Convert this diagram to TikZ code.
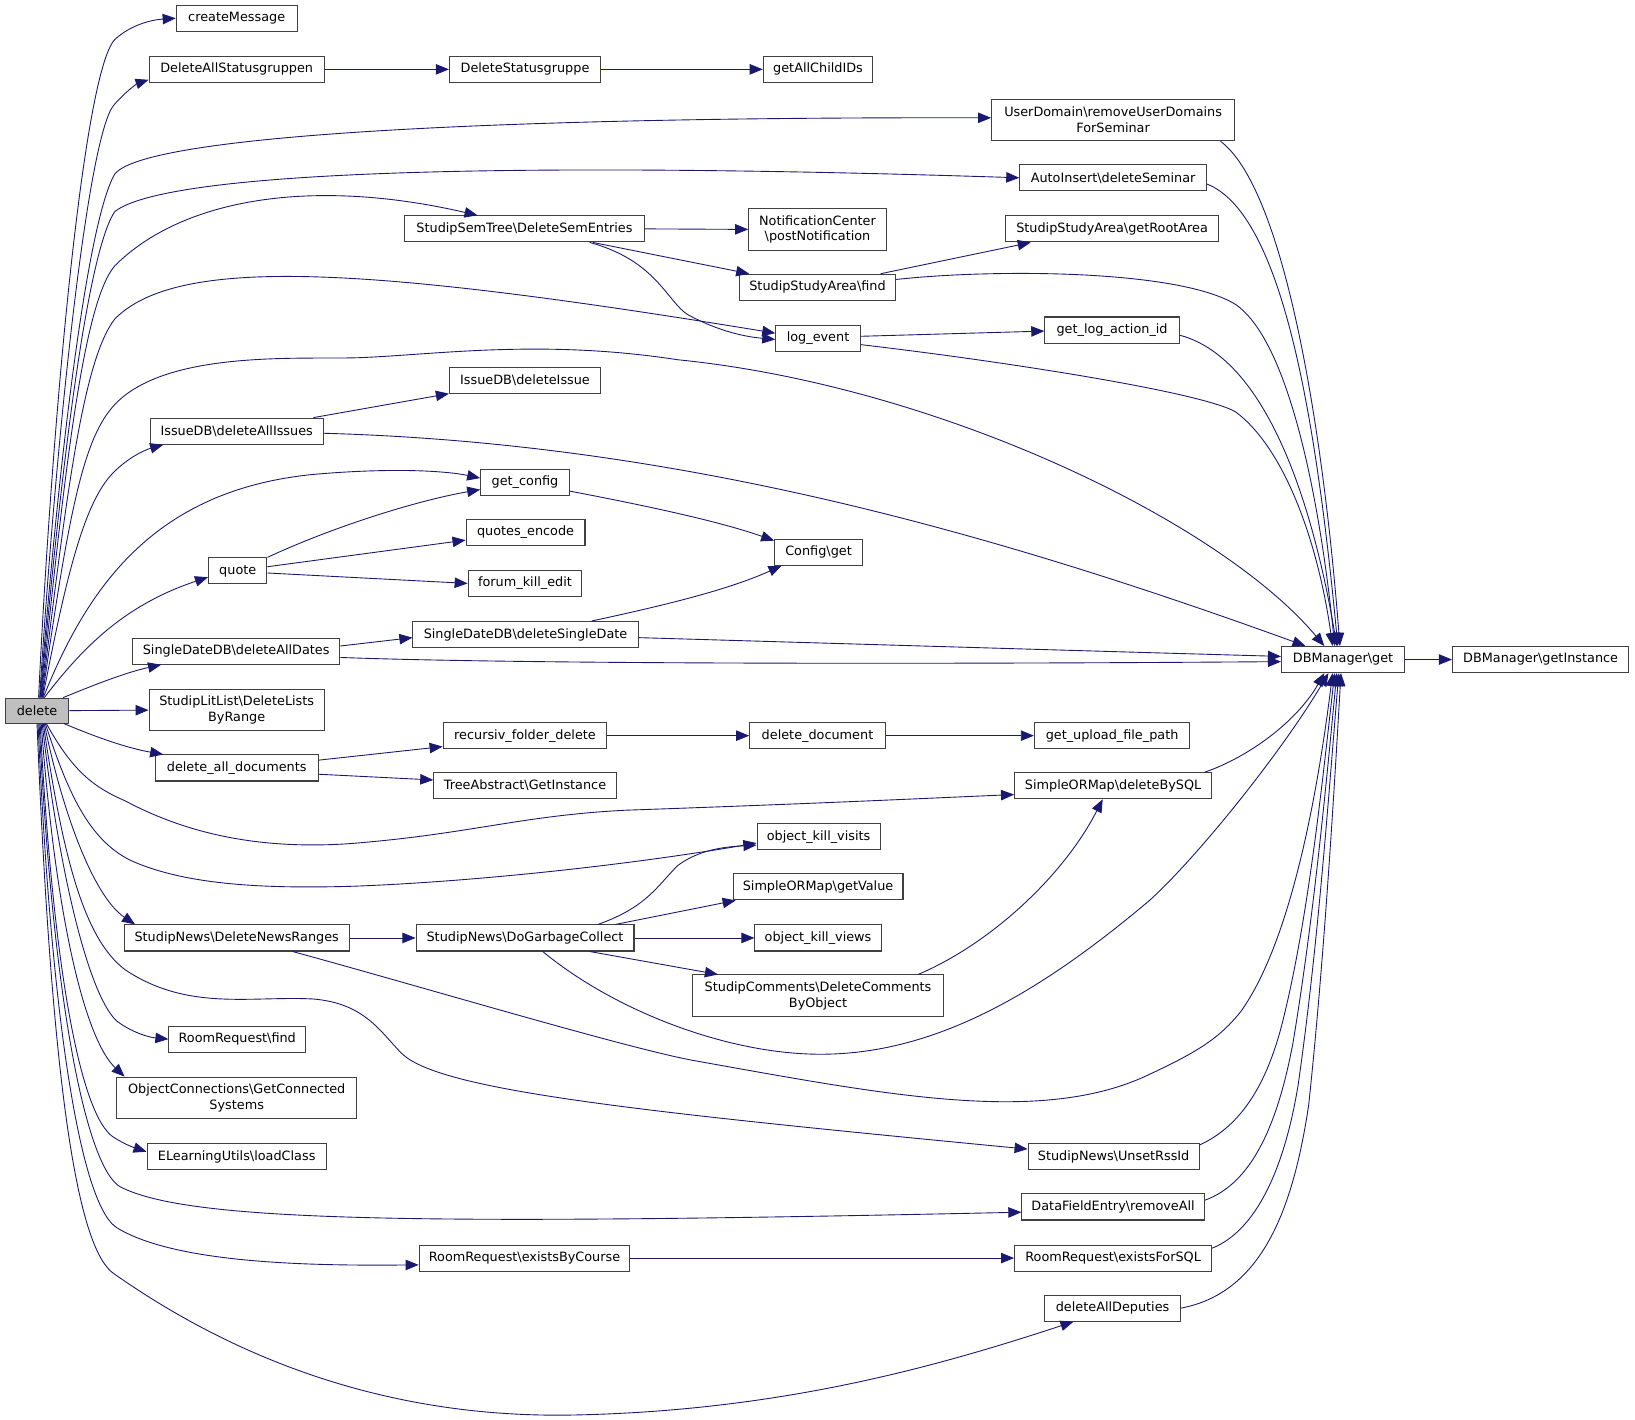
\documentclass[tikz,border=0pt]{standalone}
\usepackage{fontspec}
\setmainfont{DejaVu Sans}
\usetikzlibrary{arrows.meta}
\definecolor{edgecol}{HTML}{191970}
\definecolor{boxcol}{HTML}{404040}
\definecolor{grayfill}{HTML}{BFBFBF}
\tikzset{
  fn/.style={draw=boxcol, line width=1pt, fill=white, inner sep=0pt, minimum height=25pt,
    font=\fontsize{12.3}{15}\selectfont, align=center},
  fn2/.style={fn, minimum height=40pt},
  edge/.style={draw=edgecol, line width=0.85pt, -{Triangle[length=12.5pt,width=10pt]}}
}
\newcommand{\bs}{\textbackslash}
\begin{document}
\begin{tikzpicture}[x=1pt,y=-1pt]
\fill[white] (0,0) rectangle (1568,1361);
\useasboundingbox (0,0) rectangle (1568,1361);
% nodes
\node[fn, fill=grayfill, minimum width=61pt, minimum height=24pt] (del) at (35.5,681.5) {delete};
\node[fn, minimum width=116pt] (cm) at (227,17.5) {createMessage};
\node[fn, minimum width=168pt] (das) at (227,66.5) {DeleteAllStatusgruppen};
\node[fn, minimum width=145pt] (dsg) at (503.5,66.5) {DeleteStatusgruppe};
\node[fn, minimum width=105pt] (gac) at (784.5,66.5) {getAllChildIDs};
\node[fn2, minimum width=233pt] (ud) at (1067.5,115) {UserDomain\bs removeUserDomains\\ForSeminar};
\node[fn, minimum width=179pt] (ai) at (1067.5,170.5) {AutoInsert\bs deleteSeminar};
\node[fn, minimum width=230pt] (sst) at (503,219.5) {StudipSemTree\bs DeleteSemEntries};
\node[fn2, minimum width=132pt] (nc) at (784,220) {NotificationCenter\\\bs postNotification};
\node[fn, minimum width=205pt] (gra) at (1066.5,219.5) {StudipStudyArea\bs getRootArea};
\node[fn, minimum width=150pt] (ssf) at (784,275.5) {StudipStudyArea\bs find};
\node[fn, minimum width=81pt] (le) at (784.5,324.5) {log\_event};
\node[fn, minimum width=129pt] (glai) at (1066.5,316.5) {get\_log\_action\_id};
\node[fn, minimum width=145pt] (idi) at (503.5,364.5) {IssueDB\bs deleteIssue};
\node[fn, minimum width=166pt] (idai) at (227,413.5) {IssueDB\bs deleteAllIssues};
\node[fn, minimum width=85pt] (gc) at (503.5,462.5) {get\_config};
\node[fn, minimum width=114pt] (qe) at (504,510.5) {quotes\_encode};
\node[fn, minimum width=109pt] (fke) at (503.5,559.5) {forum\_kill\_edit};
\node[fn, minimum width=56pt] (qu) at (228,547.5) {quote};
\node[fn, minimum width=84pt] (cg) at (785,529.5) {Config\bs get};
\node[fn, minimum width=216pt] (dsd) at (504,608.5) {SingleDateDB\bs deleteSingleDate};
\node[fn, minimum width=199pt] (dad) at (226.5,624.5) {SingleDateDB\bs deleteAllDates};
\node[fn, minimum width=118pt] (dbg) at (1288,632.5) {DBManager\bs get};
\node[fn, minimum width=169pt] (dbi) at (1477.5,632.5) {DBManager\bs getInstance};
\node[fn2, minimum width=168pt] (sll) at (227,681) {StudipLitList\bs DeleteLists\\ByRange};
\node[fn, minimum width=157pt] (rfd) at (503.5,705.5) {recursiv\_folder\_delete};
\node[fn, minimum width=130pt] (dd) at (784,705.5) {delete\_document};
\node[fn, minimum width=149pt] (gufp) at (1066.5,705.5) {get\_upload\_file\_path};
\node[fn, minimum width=156pt] (dad2) at (227,736.5) {delete\_all\_documents};
\node[fn, minimum width=175pt] (tai) at (503.5,753.5) {TreeAbstract\bs GetInstance};
\node[fn, minimum width=189pt] (sdb) at (1067.5,753.5) {SimpleORMap\bs deleteBySQL};
\node[fn, minimum width=118pt] (okv) at (785,802.5) {object\_kill\_visits};
\node[fn, minimum width=163pt] (sgv) at (784.5,850.5) {SimpleORMap\bs getValue};
\node[fn, minimum width=121pt] (okw) at (784.5,899.5) {object\_kill\_views};
\node[fn, minimum width=216pt] (dnr) at (227,899.5) {StudipNews\bs DeleteNewsRanges};
\node[fn, minimum width=209pt] (dgc) at (503.5,899.5) {StudipNews\bs DoGarbageCollect};
\node[fn2, minimum width=241pt] (sc) at (784.5,955) {StudipComments\bs DeleteComments\\ByObject};
\node[fn, minimum width=131pt] (rrf) at (227.5,996.5) {RoomRequest\bs find};
\node[fn2, minimum width=230pt] (oc) at (227,1053) {ObjectConnections\bs GetConnected\\Systems};
\node[fn, minimum width=172pt] (elu) at (227,1109.5) {ELearningUtils\bs loadClass};
\node[fn, minimum width=164pt] (ursi) at (1068,1109.5) {StudipNews\bs UnsetRssId};
\node[fn, minimum width=175pt] (dfe) at (1067.5,1157.5) {DataFieldEntry\bs removeAll};
\node[fn, minimum width=202pt] (rrebc) at (503,1206.5) {RoomRequest\bs existsByCourse};
\node[fn, minimum width=189pt] (rrefs) at (1067.5,1206.5) {RoomRequest\bs existsForSQL};
\node[fn, minimum width=130pt] (dadp) at (1067,1254.5) {deleteAllDeputies};
% edges from delete (upwards)
\draw[edge] ([xshift=1.5pt]del.north) .. controls (50,400) and (80,70) .. (110,38) .. controls (125,24) and (145,19) .. (cm.west);
\draw[edge] ([xshift=2.5pt]del.north) .. controls (55,400) and (85,130) .. (109,101) .. controls (120,88) and (132,80) .. ([yshift=3pt]das.south west);
\draw[edge] ([xshift=3pt]del.north) .. controls (58,420) and (85,210) .. (110,167) .. controls (140,128) and (500,112) .. ([yshift=2pt]ud.west);
\draw[edge] ([xshift=3.5pt]del.north) .. controls (60,430) and (85,240) .. (110,203) .. controls (160,163) and (500,155) .. (ai.west);
\draw[edge] ([xshift=4pt]del.north) .. controls (62,450) and (80,290) .. (110,255) .. controls (175,190) and (300,170) .. ([xshift=-45pt]sst.north);
\draw[edge] ([xshift=4.5pt]del.north) .. controls (64,470) and (80,345) .. (110,306) .. controls (170,245) and (350,255) .. ([yshift=5pt]le.west);
\draw[edge] ([xshift=5pt]del.north) .. controls (66,490) and (80,420) .. (110,388) .. controls (160,335) and (290,345) .. (345,343) .. controls (420,340) and (520,325) .. (650,345) .. controls (900,370) and (1170,500) .. ([xshift=-18pt]dbg.north);
\draw[edge] ([xshift=5.5pt]del.north) .. controls (62,560) and (80,480) .. (110,452) .. controls (122,440) and (137,432) .. ([xshift=13pt]idai.south west);
\draw[edge] ([xshift=6pt]del.north) .. controls (85,560) and (150,470) .. (300,455) .. controls (380,448) and (430,452) .. ([yshift=4pt]gc.west);
\draw[edge] ([xshift=7pt]del.north) .. controls (80,620) and (120,580) .. ([yshift=-6pt]qu.west);
\draw[edge] ([xshift=-6pt]del.north east) .. controls (90,657) and (120,645) .. ([xshift=28pt]dad.south west);
\draw[edge] (del.east) -- (sll.west);
% edges from delete (downwards)
\draw[edge] ([xshift=-5pt]del.south east) .. controls (90,706) and (120,717) .. ([xshift=8pt]dad2.north west);
\draw[edge] ([xshift=9pt]del.south) .. controls (70,740) and (90,755) .. (120,768) .. controls (180,800) and (250,815) .. (336,809) .. controls (450,800) and (500,782) .. (600,777) .. controls (800,770) and (900,765) .. ([yshift=-8.5pt]sdb.west);
\draw[edge] ([xshift=8pt]del.south) .. controls (65,760) and (85,805) .. (125,825) .. controls (180,850) and (260,852) .. (336,850) .. controls (450,846) and (600,830) .. ([yshift=-6pt]okv.west);
\draw[edge] ([xshift=7pt]del.south) .. controls (60,780) and (90,860) .. ([xshift=11pt]dnr.north west);
\draw[edge] ([xshift=6pt]del.south) .. controls (60,820) and (80,900) .. (120,930) .. controls (180,970) and (240,955) .. (300,958) .. controls (350,962) and (365,990) .. (385,1010) .. controls (420,1045) and (600,1065) .. ([yshift=7.5pt]ursi.west);
\draw[edge] ([xshift=5pt]del.south) .. controls (58,850) and (88,960) .. (113,980) .. controls (130,992) and (145,995) .. (rrf.west);
\draw[edge] ([xshift=4pt]del.south) .. controls (55,900) and (85,1000) .. ([xshift=8pt]oc.north west);
\draw[edge] ([xshift=3pt]del.south) .. controls (52,950) and (80,1070) .. (108,1090) .. controls (120,1098) and (130,1101) .. ([yshift=5pt]elu.west);
\draw[edge] ([xshift=2pt]del.south) .. controls (52,980) and (85,1120) .. (115,1138) .. controls (180,1172) and (400,1175) .. ([yshift=-5pt]dfe.west);
\draw[edge] ([xshift=1pt]del.south) .. controls (50,1000) and (80,1160) .. (113,1178) .. controls (170,1212) and (300,1214) .. ([yshift=-6.5pt]rrebc.west);
\draw[edge] (del.south) .. controls (50,1050) and (75,1200) .. (110,1222) .. controls (250,1320) and (400,1360) .. (550,1357) .. controls (750,1353) and (900,1310) .. ([xshift=28pt]dadp.south west);
% other edges
\draw[edge] (das.east) -- (dsg.west);
\draw[edge] (dsg.east) -- (gac.west);
\draw[edge] ([xshift=-14pt]ud.south east) .. controls (1230,180) and (1268,400) .. ([xshift=-3pt]dbg.north);
\draw[edge] ([yshift=-6pt]ai.east) .. controls (1230,205) and (1262,400) .. ([xshift=-5pt]dbg.north);
\draw[edge] (sst.east) -- (nc.west);
\draw[edge] ([xshift=-50pt]sst.south east) -- ([xshift=10pt]ssf.north west);
\draw[edge] ([xshift=-53pt]sst.south east) .. controls (630,250) and (640,290) .. (660,302) .. controls (690,318) and (715,323) .. ([yshift=-1pt]le.west);
\draw[edge] ([xshift=-15pt]ssf.north east) -- ([xshift=25pt]gra.south west);
\draw[edge] ([yshift=7.5pt]ssf.east) .. controls (950,258) and (1130,258) .. (1185,292) .. controls (1240,330) and (1268,500) .. ([xshift=-8pt]dbg.north);
\draw[edge] ([yshift=2pt]le.east) -- ([yshift=-1pt]glai.west);
\draw[edge] ([yshift=-6pt]le.east) .. controls (950,345) and (1150,375) .. (1185,395) .. controls (1232,430) and (1264,520) .. ([xshift=-10pt]dbg.north);
\draw[edge] ([yshift=-5pt]glai.east) .. controls (1220,345) and (1262,500) .. ([xshift=-6pt]dbg.north);
\draw[edge] ([xshift=-10pt]idai.north east) -- (idi.south west);
\draw[edge] ([yshift=-2pt]idai.east) .. controls (650,425) and (950,510) .. ([xshift=-36pt]dbg.north);
\draw[edge] (qu.north east) .. controls (320,505) and (400,480) .. ([yshift=-7pt]gc.west);
\draw[edge] ([yshift=4pt]qu.east) -- ([yshift=-7.5pt]qe.west);
\draw[edge] ([yshift=-2pt]qu.east) -- (fke.west);
\draw[edge] ([yshift=-8.5pt]gc.east) .. controls (620,485) and (690,500) .. ([yshift=-2pt]cg.north west);
\draw[edge] ([xshift=-45pt]dsd.north east) .. controls (640,580) and (700,565) .. ([xshift=7pt]cg.south west);
\draw[edge] ([yshift=-3pt]dsd.east) .. controls (800,617) and (1000,623) .. ([yshift=3pt]dbg.west);
\draw[edge] ([yshift=5pt]dad.east) -- ([yshift=-3pt]dsd.west);
\draw[edge] ([yshift=-6pt]dad.east) .. controls (500,637) and (900,637) .. ([yshift=-2pt]dbg.west);
\draw[edge] (dbg.east) -- (dbi.west);
\draw[edge] (rfd.east) -- (dd.west);
\draw[edge] (dd.east) -- (gufp.west);
\draw[edge] ([yshift=7.5pt]dad2.east) -- ([yshift=-10.5pt]rfd.west);
\draw[edge] ([yshift=-6pt]dad2.east) -- ([yshift=5.5pt]tai.west);
\draw[edge] ([xshift=-7pt]sdb.north east) .. controls (1200,725) and (1245,690) .. ([xshift=-18pt]dbg.south);
\draw[edge] (dnr.east) -- (dgc.west);
\draw[edge] ([xshift=-55pt]dnr.south east) .. controls (400,945) and (600,1005) .. (665,1017) .. controls (850,1050) and (1000,1080) .. (1103,1030) .. controls (1150,1008) and (1170,995) .. (1190,970) .. controls (1240,900) and (1265,750) .. ([xshift=-10pt]dbg.south);
\draw[edge] ([xshift=-88pt]dgc.south east) .. controls (590,970) and (700,1012) .. (790,1011) .. controls (900,1010) and (1000,950) .. (1103,863) .. controls (1150,820) and (1230,720) .. ([xshift=-14pt]dbg.south);
\draw[edge] ([xshift=-35pt]dgc.north east) .. controls (620,870) and (630,850) .. (650,830) .. controls (670,815) and (695,812) .. ([yshift=-8pt]okv.west);
\draw[edge] ([xshift=-18pt]dgc.north east) -- ([xshift=3pt]sgv.south west);
\draw[edge] (dgc.east) -- (okw.west);
\draw[edge] ([xshift=-43pt]dgc.south east) -- ([xshift=25pt]sc.north west);
\draw[edge] ([xshift=-25pt]sc.north east) .. controls (950,905) and (1020,840) .. ([xshift=-10pt]sdb.south);
\draw[edge] ([yshift=11.5pt]ursi.east) .. controls (1190,1080) and (1215,1040) .. (1230,980) .. controls (1255,880) and (1268,750) .. ([xshift=-8pt]dbg.south);
\draw[edge] ([yshift=6.5pt]dfe.east) .. controls (1200,1135) and (1225,1080) .. (1240,1000) .. controls (1260,880) and (1272,750) .. ([xshift=-6pt]dbg.south);
\draw[edge] ([yshift=9.5pt]rrefs.east) .. controls (1205,1180) and (1232,1120) .. (1245,1040) .. controls (1265,900) and (1275,750) .. ([xshift=-4pt]dbg.south);
\draw[edge] (dadp.east) .. controls (1210,1240) and (1240,1160) .. (1255,1060) .. controls (1270,920) and (1280,750) .. ([xshift=-2pt]dbg.south);
\draw[edge] (rrebc.east) -- (rrefs.west);
\end{tikzpicture}
\end{document}
